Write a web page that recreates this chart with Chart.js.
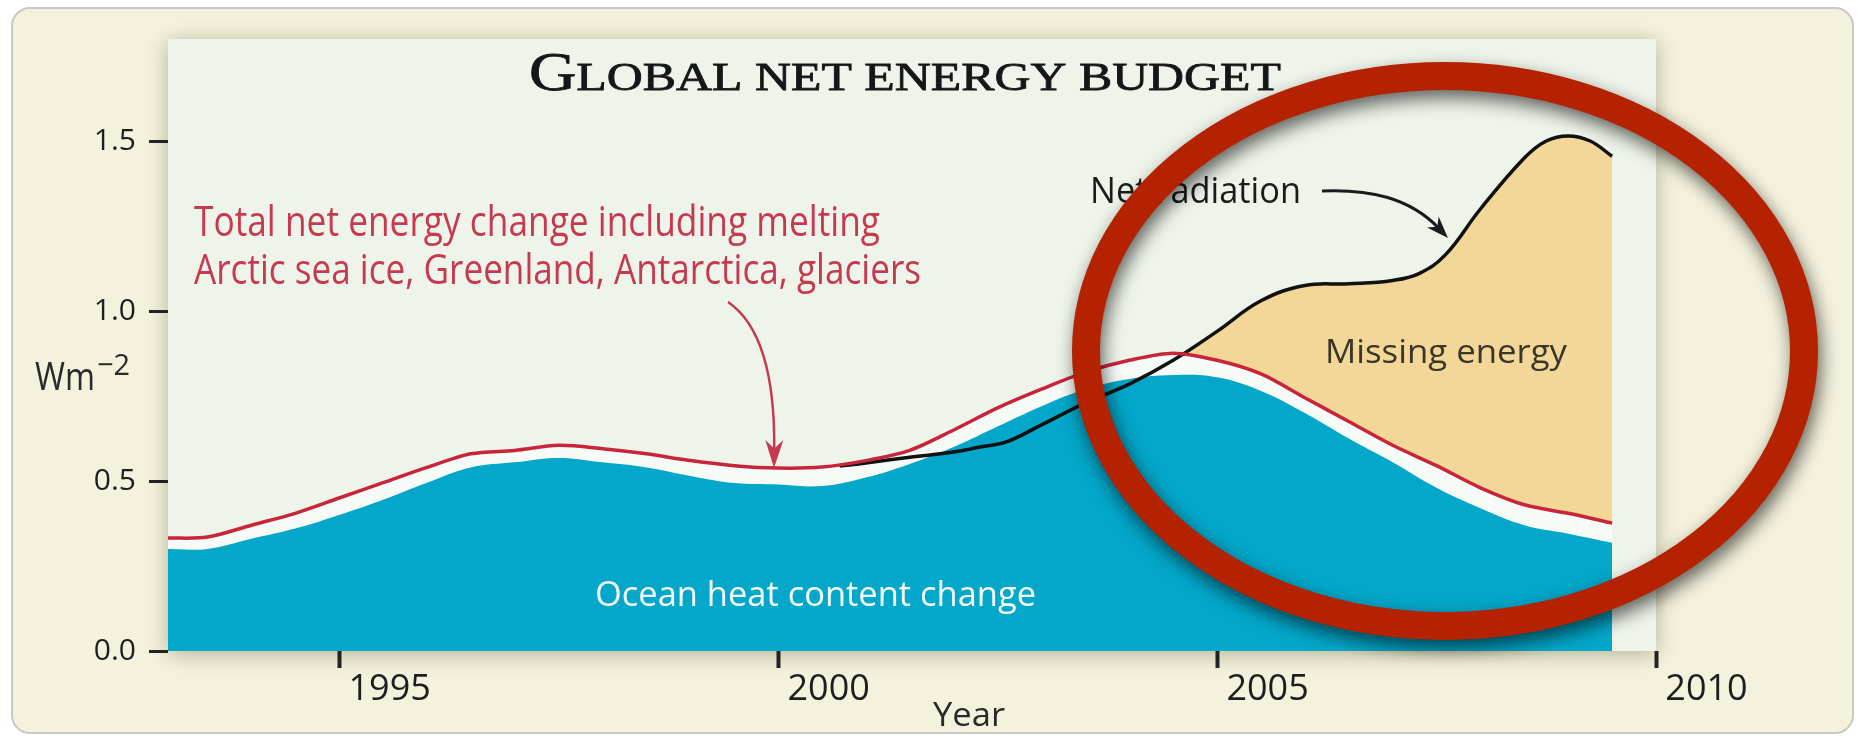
<!DOCTYPE html>
<html>
<head>
<meta charset="utf-8">
<title>Global net energy budget</title>
<script src="https://cdn.jsdelivr.net/npm/chart.js@4.4.1/dist/chart.umd.min.js"></script>
<style>
    html, body { margin: 0; padding: 0; background: #fff; }
    canvas { display: block; }
</style>
</head>
<body>
<canvas id="budgetChart" width="1864" height="736"></canvas>
<script>
    // values, W m-2
    var years = [1993.05, 1993.5, 1994, 1994.5, 1995, 1995.5, 1996, 1996.5, 1997, 1997.5, 1998, 1998.5,
        1999, 1999.5, 2000, 2000.5, 2001, 2001.5, 2002, 2002.5, 2003, 2003.5, 2004, 2004.5,
        2005, 2005.5, 2006, 2006.5, 2007, 2007.5, 2008, 2008.5, 2009, 2009.5];
    var oceanHeat = [0.30, 0.30, 0.33, 0.36, 0.40, 0.445, 0.495, 0.54, 0.555, 0.568, 0.555, 0.54,
        0.515, 0.494, 0.49, 0.485, 0.51, 0.55, 0.60, 0.66, 0.72, 0.77, 0.80, 0.812,
        0.805, 0.765, 0.70, 0.625, 0.555, 0.48, 0.42, 0.37, 0.345, 0.318];
    var totalEnergy = [0.332, 0.335, 0.37, 0.405, 0.45, 0.495, 0.54, 0.58, 0.59, 0.605, 0.595, 0.58,
        0.56, 0.545, 0.538, 0.541, 0.56, 0.59, 0.65, 0.715, 0.77, 0.82, 0.855, 0.876,
        0.855, 0.815, 0.745, 0.675, 0.605, 0.545, 0.48, 0.43, 0.405, 0.376];
    var radYears = [2000.7, 2001, 2001.5, 2002, 2002.3, 2002.6, 2003, 2003.5, 2004, 2004.5, 2005, 2005.5,
        2006, 2006.5, 2007, 2007.3, 2007.6, 2008, 2008.5, 2008.75, 2009, 2009.25, 2009.5];
    var netRadiation = [0.544, 0.553, 0.57, 0.585, 0.60, 0.615, 0.665, 0.73, 0.785, 0.855, 0.94, 1.03,
        1.075, 1.08, 1.09, 1.11, 1.165, 1.30, 1.45, 1.50, 1.515, 1.50, 1.455];
    var xTicks = [1995, 2000, 2005, 2010];
    var yTicks = [0, 0.5, 1.0, 1.5];

    var sans = "'Open Sans', sans-serif";
    var tickFamily = "'Liberation Sans Narrow', 'Open Sans', sans-serif";

    function pairs(xs, ys) {
        return xs.map(function (x, i) { return { x: x, y: ys[i] }; });
    }

    // text squeezed to the width it has in the figure (the original face is condensed)
    function fitText(ctx, str, x, y, size, width, color, family) {
        ctx.save();
        ctx.font = size + 'px ' + (family || sans);
        ctx.fillStyle = color;
        ctx.textBaseline = 'alphabetic';
        ctx.textAlign = 'left';
        var w = ctx.measureText(str).width;
        ctx.translate(x, y);
        ctx.scale(width / w, 1);
        ctx.fillText(str, 0, 0);
        ctx.restore();
    }

    function smallCaps(ctx, str, cx, y, size, width) {
        var family = "'Liberation Serif', serif";
        var parts = str.split('').map(function (ch) {
            var big = ch !== ch.toLowerCase();
            return { ch: ch.toUpperCase(), size: big ? size : size * 0.76 };
        });
        var total = 0;
        parts.forEach(function (p) {
            ctx.font = p.size + 'px ' + family;
            p.w = ctx.measureText(p.ch).width;
            total += p.w;
        });
        ctx.save();
        ctx.translate(cx - width / 2, y);
        ctx.scale(width / total, 1);
        ctx.fillStyle = '#161616';
        ctx.strokeStyle = '#161616';
        ctx.lineWidth = 0.8;
        ctx.textBaseline = 'alphabetic';
        var pos = 0;
        parts.forEach(function (p) {
            ctx.font = p.size + 'px ' + family;
            ctx.fillText(p.ch, pos, 0);
            ctx.strokeText(p.ch, pos, 0);
            pos += p.w;
        });
        ctx.restore();
    }

    function curvedArrow(ctx, p, color, lw, headLen, headW) {
        var tx = p[6], ty = p[7];
        var ang = Math.atan2(ty - p[5], tx - p[4]);
        ctx.save();
        ctx.strokeStyle = color;
        ctx.fillStyle = color;
        ctx.lineWidth = lw;
        ctx.beginPath();
        ctx.moveTo(p[0], p[1]);
        ctx.bezierCurveTo(p[2], p[3], p[4], p[5], tx - Math.cos(ang) * headLen * 0.6, ty - Math.sin(ang) * headLen * 0.6);
        ctx.stroke();
        ctx.translate(tx, ty);
        ctx.rotate(ang);
        ctx.beginPath();
        ctx.moveTo(0, 0);
        ctx.lineTo(-headLen, -headW);
        ctx.lineTo(-headLen * 0.7, 0);
        ctx.lineTo(-headLen, headW);
        ctx.closePath();
        ctx.fill();
        ctx.restore();
    }

    var backdrop = {
        id: 'backdrop',
        beforeDraw: function (chart) {
            var ctx = chart.ctx, a = chart.chartArea;
            ctx.save();
            ctx.fillStyle = '#ffffff';
            ctx.fillRect(0, 0, chart.width, chart.height);
            ctx.beginPath();
            ctx.roundRect(12, 8, 1841, 725, 18);
            ctx.fillStyle = '#F4F2DD';
            ctx.fill();
            ctx.lineWidth = 2;
            ctx.strokeStyle = '#C9C9C1';
            ctx.stroke();
            ctx.shadowColor = 'rgba(90, 80, 40, 0.4)';
            ctx.shadowBlur = 20;
            ctx.shadowOffsetY = 3;
            ctx.fillStyle = '#EEF4EA';
            ctx.fillRect(a.left, a.top, a.right - a.left, a.bottom - a.top);
            ctx.restore();
        }
    };

    var notes = {
        id: 'notes',
        afterDraw: function (chart) {
            var ctx = chart.ctx;
            smallCaps(ctx, 'Global net energy budget', 905, 90, 54, 752);

            fitText(ctx, 'Total net energy change including melting', 194, 236, 42, 686, '#C63A50');
            fitText(ctx, 'Arctic sea ice, Greenland, Antarctica, glaciers', 194, 284, 42, 727, '#C63A50');
            curvedArrow(ctx, [728, 302, 766, 328, 775, 390, 774, 468], '#C63A50', 2.5, 28, 9);

            fitText(ctx, 'Ocean heat content change', 595, 606, 35, 441, '#F4FBFB');
            fitText(ctx, 'Missing energy', 1325, 363, 33, 242, '#3A3728');

            fitText(ctx, 'Net radiation', 1090, 203, 36, 211, '#1B1B1B');
            curvedArrow(ctx, [1322, 191, 1370, 189, 1410, 198, 1448, 238], '#1B1B1B', 3, 22, 8);

            fitText(ctx, 'Year', 933, 726, 33, 72, '#2A2A2A');
            fitText(ctx, 'Wm', 35, 390, 39, 60, '#2A2A2A');
            fitText(ctx, '\u22122', 97, 375, 30, 33, '#2A2A2A');

            // red ring drawn over the right part of the figure
            ctx.save();
            ctx.beginPath();
            ctx.ellipse(1445, 351, 359, 275, 0, 0, Math.PI * 2);
            ctx.lineWidth = 28;
            ctx.strokeStyle = '#B42200';
            ctx.shadowColor = 'rgba(0, 0, 0, 0.6)';
            ctx.shadowBlur = 18;
            ctx.shadowOffsetX = 3;
            ctx.shadowOffsetY = 8;
            ctx.stroke();
            ctx.restore();
        }
    };

    var budgetCtx = document.getElementById('budgetChart').getContext('2d');
    var budgetChart = new Chart(budgetCtx, {
        type: 'line',
        data: {
            datasets: [{
                label: 'Ocean heat content change',
                data: pairs(years, oceanHeat),
                borderWidth: 0,
                borderColor: 'rgba(0,0,0,0)',
                backgroundColor: '#03A7C9',
                fill: 'origin',
                tension: 0.4
            }, {
                label: 'Total net energy change',
                data: pairs(years, totalEnergy),
                borderWidth: 3.5,
                borderColor: '#C8253A',
                fill: { target: 0, above: '#F6FBF8', below: 'rgba(0,0,0,0)' },
                tension: 0.3
            }, {
                label: 'Net radiation',
                data: pairs(radYears, netRadiation),
                borderWidth: 3.5,
                borderColor: '#111111',
                fill: { target: 1, above: '#F2D798', below: 'rgba(0,0,0,0)' },
                tension: 0.4
            }]
        },
        options: {
            responsive: false,
            animation: false,
            devicePixelRatio: 1,
            elements: { point: { radius: 0 } },
            layout: { padding: { top: 39, right: 208, left: 0, bottom: 0 } },
            plugins: {
                legend: { display: false },
                tooltip: { enabled: false },
                filler: { drawTime: 'beforeDatasetsDraw' }
            },
            scales: {
                x: {
                    type: 'linear',
                    min: 1993.05,
                    max: 2010,
                    afterBuildTicks: function (s) { s.ticks = xTicks.map(function (v) { return { value: v }; }); },
                    afterFit: function (s) { s.height = 85; },
                    border: { display: false },
                    grid: { drawOnChartArea: false, tickLength: 17, tickWidth: 4, tickColor: '#222' },
                    ticks: {
                        align: 'start',
                        autoSkip: false,
                        maxRotation: 0,
                        padding: 0,
                        color: '#1E1E1E',
                        font: { size: 36, family: tickFamily },
                        callback: function (v) { return ' ' + v; }
                    }
                },
                y: {
                    min: 0,
                    max: 1.8,
                    afterBuildTicks: function (s) { s.ticks = yTicks.map(function (v) { return { value: v }; }); },
                    afterFit: function (s) { s.width = 168; },
                    border: { display: false },
                    grid: { drawOnChartArea: false, tickLength: 19, tickWidth: 3, tickColor: '#222' },
                    ticks: {
                        padding: 13,
                        color: '#1E1E1E',
                        font: { size: 30, family: "'Open Sans', sans-serif" },
                        callback: function (v) { return v.toFixed(1); }
                    }
                }
            }
        },
        plugins: [backdrop, notes]
    });
</script>
</body>
</html>
